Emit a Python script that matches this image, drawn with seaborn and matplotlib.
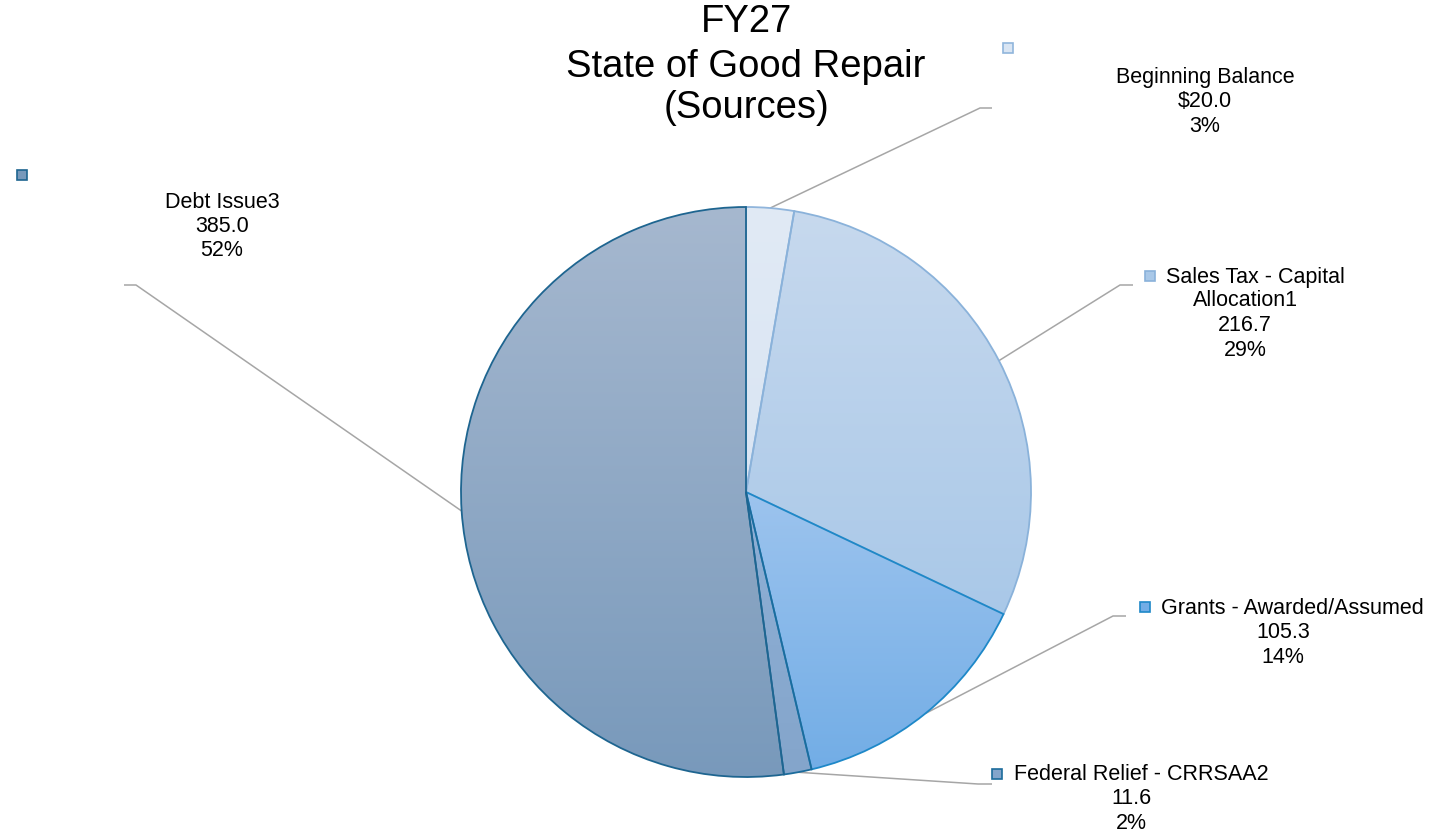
import numpy as np
import matplotlib
matplotlib.use("Agg")
import matplotlib.pyplot as plt
from matplotlib.patches import Rectangle
from matplotlib.colors import to_rgb
import seaborn as sns

sns.set_theme(style="white")
plt.rcParams['font.family'] = ['Liberation Sans', 'DejaVu Sans']
plt.rcParams['text.color'] = 'black'

W, H = 1430, 835

# data
sources = ["Beginning Balance", "Sales Tax - Capital Allocation1", "Grants - Awarded/Assumed",
           "Federal Relief - CRRSAA2", "Debt Issue3"]
amounts = [20.0, 216.7, 105.3, 11.6, 385.0]
amount_labels = ["$20.0", "216.7", "105.3", "11.6", "385.0"]

# gradient top/bottom and edge colours per slice
top_colors = ["#e1eaf5", "#c7d9ee", "#9dc4ee", "#8fb0d6", "#a6b8cf"]
bottom_colors = ["#d9e5f3", "#a9c8e8", "#72ade6", "#84a5cb", "#7899bb"]
edge_colors = ["#90b5dc", "#8ab2da", "#1e88c8", "#1c6c9c", "#1e6590"]

center = (746, H - 492)
radius = 285


def py(y):
    return H - y


fig = plt.figure(figsize=(14.3, 8.35), dpi=100)
ax = fig.add_axes([0, 0, 1, 1])

wedges, _ = ax.pie(amounts, center=center, radius=radius, startangle=90, counterclock=False,
                   colors=["none"] * len(amounts),
                   wedgeprops=dict(linewidth=1.3, zorder=3))
for w, ec in zip(wedges, edge_colors):
    w.set_edgecolor(ec)
    w.set_facecolor("none")

# vertical gradient fill clipped to each wedge
for w, c0, c1 in zip(wedges, top_colors, bottom_colors):
    verts = w.get_path().vertices
    x0, x1 = verts[:, 0].min(), verts[:, 0].max()
    y0, y1 = verts[:, 1].min(), verts[:, 1].max()
    t = np.linspace(0, 1, 256)[:, None]
    grad = (1 - t) * np.array(to_rgb(c1)) + t * np.array(to_rgb(c0))
    img = ax.imshow(grad[:, None, :], extent=[x0 - 2, x1 + 2, y0 - 2, y1 + 2], origin="lower",
                    aspect="auto", zorder=2, interpolation="bilinear")
    img.set_clip_path(w)

# leader lines from slice mid-angle
total = sum(amounts)
elbows = [((980, 108), (992, 108)), ((1120, 285), (1133, 285)), ((1113, 616), (1126, 616)),
          ((978, 784), (992, 784)), ((136, 285), (124, 285))]
cum = 0
for val, (e1, e2) in zip(amounts, elbows):
    mid = (cum + val / 2) / total * 2 * np.pi
    cum += val
    sx = center[0] + radius * np.sin(mid)
    sy = center[1] + radius * np.cos(mid)
    ax.plot([sx, e1[0], e2[0]], [sy, py(e1[1]), py(e2[1])], color="#a6a6a6", lw=1.1, zorder=1,
            solid_capstyle="butt")

# labels
pcts = [f"{round(v / total * 100):.0f}%" for v in amounts]
fs = 15.5
lh = 24.5


def marker(x, y, i):
    ax.add_patch(Rectangle((x - 5, py(y) - 5), 10, 10, facecolor=bottom_colors[i],
                           edgecolor=edge_colors[i], lw=1.2, zorder=4))


# Beginning Balance: marker on its own line
marker(1008, 48, 0)
for k, s in enumerate(["Beginning Balance", amount_labels[0], pcts[0]]):
    ax.text(1205, py(77 + k * lh), s, ha="center", va="center", fontsize=fs)

# Sales Tax
marker(1150, 276, 1)
ax.text(1166, py(277), "Sales Tax - Capital", ha="left", va="center", fontsize=fs)
for k, s in enumerate(["Allocation1", amount_labels[1], pcts[1]]):
    ax.text(1245, py(301 + k * lh), s, ha="center", va="center", fontsize=fs)

# Grants
marker(1145, 607, 2)
ax.text(1161, py(608), "Grants - Awarded/Assumed", ha="left", va="center", fontsize=fs)
for k, s in enumerate([amount_labels[2], pcts[2]]):
    ax.text(1283, py(633 + k * lh), s, ha="center", va="center", fontsize=fs)

# Federal Relief
marker(997, 774, 3)
ax.text(1014, py(775), "Federal Relief - CRRSAA2", ha="left", va="center", fontsize=fs)
for k, s in enumerate([amount_labels[3], pcts[3]]):
    ax.text(1131, py(799 + k * lh), s, ha="center", va="center", fontsize=fs)

# Debt Issue
marker(22, 175, 4)
for k, s in enumerate(["Debt Issue3", amount_labels[4], pcts[4]]):
    ax.text(222, py(202 + k * lh), s, ha="center", va="center", fontsize=fs)

ax.text(746, py(22), "FY27", ha="center", va="center", fontsize=27.5)
ax.text(746, py(67), "State of Good Repair", ha="center", va="center", fontsize=27.5)
ax.text(746, py(108), "(Sources)", ha="center", va="center", fontsize=27.5)

ax.set_xlim(0, W)
ax.set_ylim(0, H)
ax.set_aspect("equal")
ax.axis("off")

fig.savefig("out.png", dpi=100, facecolor="white")
